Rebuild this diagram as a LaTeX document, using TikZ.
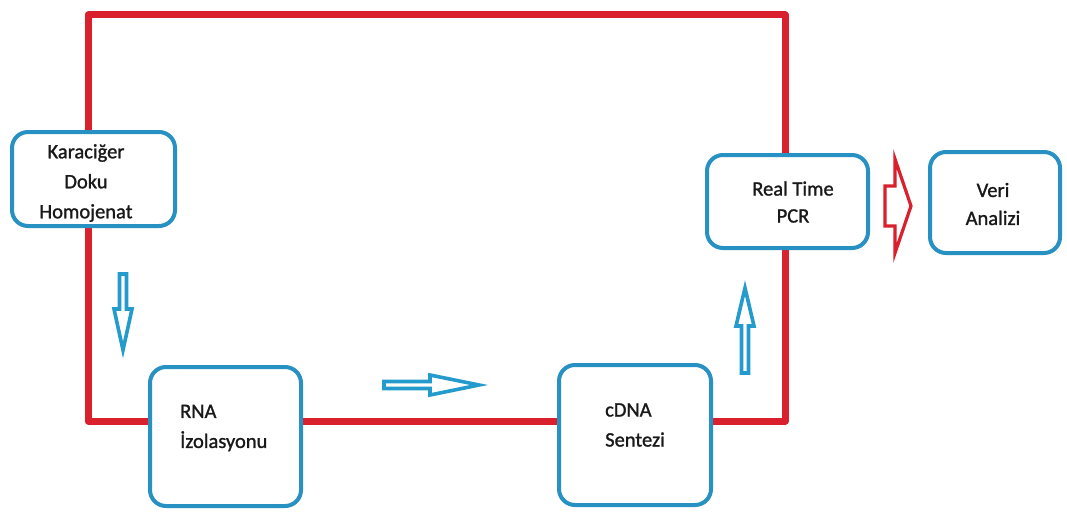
\documentclass[tikz,border=0pt]{standalone}
\usepackage{fontspec}
\setmainfont{Carlito}[FakeBold=1.2]
\usetikzlibrary{calc,backgrounds}
\definecolor{boxblue}{RGB}{40,145,195}
\definecolor{arrblue}{RGB}{35,155,205}
\definecolor{loopred}{RGB}{218,32,45}
\begin{document}
\begin{tikzpicture}[x=1pt,y=-1pt,
  box/.style={draw=boxblue, line width=4pt, rounded corners=16pt, fill=white, inner sep=0pt},
  lbl/.style={inner sep=0pt, text=black!90},
  redloop/.style={draw=loopred, line width=7pt, line join=round, line cap=round},
  hollowblue/.style={draw=arrblue, line width=3.6pt, fill=white, line join=miter},
  hollowred/.style={draw=loopred, line width=3.2pt, fill=white, line join=miter}]
\useasboundingbox (0,0) rectangle (1067,511);
% boxes
\node[box, minimum width=163pt, minimum height=94pt] (kar) at (93.5,179) {};
\node[box, minimum width=151pt, minimum height=139pt] (rna) at (225.5,436.5) {};
\node[box, minimum width=152pt, minimum height=140pt] (cdna) at (635,435) {};
\node[box, minimum width=161pt, minimum height=93pt] (pcr) at (787.5,201.5) {};
\node[box, minimum width=130pt, minimum height=101pt] (veri) at (995,202.5) {};
% texts
\node[lbl, align=center, font=\fontsize{20.5}{30}\selectfont] (kart) at (86,183) {Karaciğer\\Doku\\Homojenat};
\node[lbl, align=left, anchor=west, font=\fontsize{20.5}{30}\selectfont] (rnat) at (180,428) {RNA\\İzolasyonu};
\node[lbl, align=left, anchor=west, font=\fontsize{20.5}{30}\selectfont] (cdnat) at (605,425) {cDNA\\Sentezi};
\node[lbl, align=center, font=\fontsize{20.5}{27}\selectfont] (pcrt) at (793,202) {Real Time\\PCR};
\node[lbl, align=center, font=\fontsize{20.5}{28}\selectfont] (verit) at (993,204) {Veri\\Analizi};
% red loop
\coordinate (TL) at (88,15);
\coordinate (TR) at (785,15);
\coordinate (BL) at (88,421);
\coordinate (BR) at (785,421);
\begin{scope}[on background layer]
\draw[redloop] (rna.west |- BL) -- (BL) -- (TL) -- (TR) -- (BR) -- (cdna.east |- BR);
\draw[redloop] (rna.east |- BL) -- (cdna.west |- BL);
\end{scope}
% hollow arrows
\draw[hollowblue] (119.5,274) -- (126.5,274) -- (126.5,309) -- (132,309) -- (123,350) -- (114,309) -- (119.5,309) -- cycle;
\draw[hollowblue] (384,381.5) -- (430,381.5) -- (430,375) -- (479,385) -- (430,395) -- (430,388.5) -- (384,388.5) -- cycle;
\draw[hollowblue] (741.5,373) -- (748.5,373) -- (748.5,326) -- (754,326) -- (745,288) -- (736,326) -- (741.5,326) -- cycle;
\draw[hollowred] (885,186) -- (895,186) -- (895,159) -- (911,206) -- (895,253) -- (895,226) -- (885,226) -- cycle;
\end{tikzpicture}
\end{document}
